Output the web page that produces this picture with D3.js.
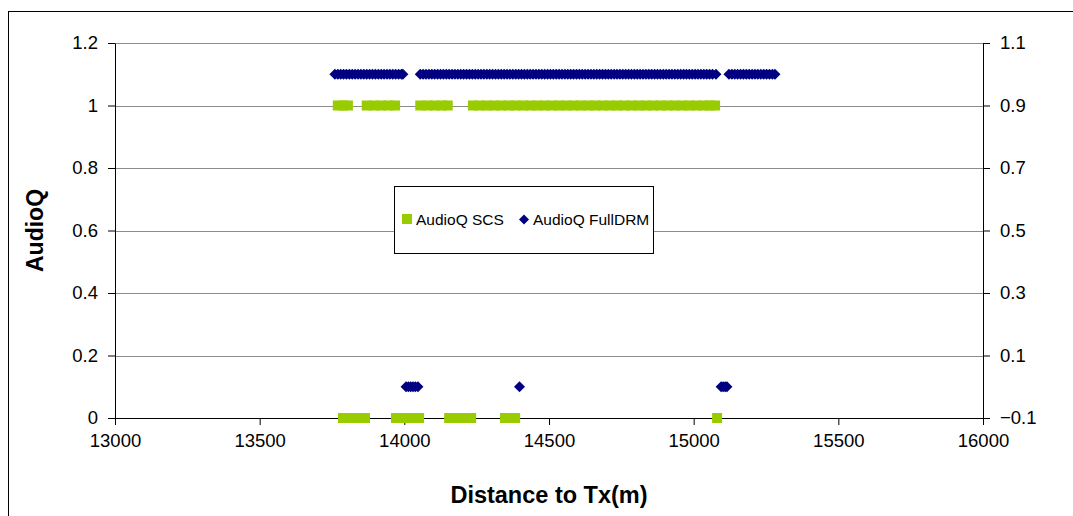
<!DOCTYPE html>
<html><head><meta charset="utf-8">
<script src="https://cdn.jsdelivr.net/npm/d3@7"></script>
<style>body{margin:0;background:#fff}svg{display:block;font-family:Arial,"Liberation Sans",sans-serif}</style>
</head><body><svg id="c" width="1073" height="516"></svg>
<script>
// ---- data ----
const xTicks = [13000, 13500, 14000, 14500, 15000, 15500, 16000];
const yLeftTicks = [0, 0.2, 0.4, 0.6, 0.8, 1, 1.2];
const yRightTicks = [-0.1, 0.1, 0.3, 0.5, 0.7, 0.9, 1.1];
const seriesNames = ["AudioQ SCS", "AudioQ FullDRM"];

// AudioQ SCS (left axis): distances where AudioQ = 1 and where AudioQ = 0
const scsDistanceQ1 = [
  13770, 13788, 13805,
  13870, 13895, 13920, 13945, 13968,
  14055, 14080, 14105, 14130, 14150,
  14237, 14260, 14285, 14310, 14335, 14360, 14385, 14410, 14435, 14460, 14485,
  14510, 14535, 14560, 14585, 14610, 14635, 14660, 14685, 14710, 14735, 14760,
  14785, 14810, 14835, 14860, 14885, 14910, 14935, 14960, 14985, 15010, 15035, 15055, 15074
];
const scsDistanceQ0 = [
  13788, 13808, 13828, 13848, 13864,
  13971, 13991, 14011, 14031, 14051,
  14155, 14175, 14195, 14215, 14231,
  14348, 14366, 14383,
  15081
];

// AudioQ FullDRM (right axis): distances where AudioQ = 1 and where AudioQ = 0
const drmDistanceQ1 = [
  13760, 13770, 13780, 13790, 13800, 13810, 13820, 13830, 13840, 13850,
  13860, 13870, 13880, 13890, 13900, 13910, 13920, 13930, 13940, 13950,
  13960, 13970, 13980, 13990, 13995,
  14055, 14065, 14075, 14085, 14095, 14105, 14115, 14125, 14135, 14145,
  14155, 14165, 14175, 14185, 14195, 14205, 14215, 14225, 14235, 14245,
  14255, 14265, 14275, 14285, 14295, 14305, 14315, 14325, 14335, 14345,
  14355, 14365, 14375, 14385, 14395, 14405, 14415, 14425, 14435, 14445,
  14455, 14465, 14475, 14485, 14495, 14505, 14515, 14525, 14535, 14545,
  14555, 14565, 14575, 14585, 14595, 14605, 14615, 14625, 14635, 14645,
  14655, 14665, 14675, 14685, 14695, 14705, 14715, 14725, 14735, 14745,
  14755, 14765, 14775, 14785, 14795, 14805, 14815, 14825, 14835, 14845,
  14855, 14865, 14875, 14885, 14895, 14905, 14915, 14925, 14935, 14945,
  14955, 14965, 14975, 14985, 14995, 15005, 15015, 15025, 15035, 15045,
  15055, 15065, 15077,
  15122, 15132, 15142, 15152, 15162, 15172, 15182, 15192, 15202, 15212,
  15222, 15232, 15242, 15252, 15262, 15272, 15281
];
const drmDistanceQ0 = [
  14006, 14014, 14022, 14030, 14038, 14047,
  14398,
  15095, 15102, 15109, 15115
];

// ---- chart ----
const svg = d3.select("#c");
const L = 115, R = 983, T = 43, B = 418;
const x = d3.scaleLinear().domain([13000, 16000]).range([L, R]);
const yL = d3.scaleLinear().domain([0, 1.2]).range([B, T]);
const yR = d3.scaleLinear().domain([-0.1, 1.1]).range([B, T]);

// outer border
svg.append("rect").attr("x", 8.5).attr("y", 11.5).attr("width", 1100).attr("height", 600)
  .attr("fill", "none").attr("stroke", "#000").attr("stroke-width", 1);

// gridlines
svg.append("g").selectAll("line").data(yLeftTicks.filter(d => d > 0)).join("line")
  .attr("x1", L).attr("x2", R)
  .attr("y1", d => Math.round(yL(d)) + 0.5).attr("y2", d => Math.round(yL(d)) + 0.5)
  .attr("stroke", "#8c8c8c").attr("stroke-width", 1);

const fmt = d => d3.format("")(+d.toFixed(1));
const axStyle = g => {
  g.selectAll("path,line").attr("stroke", "#000");
  g.selectAll("text").attr("font-size", 18.5).attr("fill", "#000").attr("font-family", "Arial, 'Liberation Sans', sans-serif");
};

svg.append("g").attr("transform", `translate(${L},0)`)
  .call(d3.axisLeft(yL).tickValues(yLeftTicks).tickFormat(fmt).tickSize(7).tickSizeOuter(0).tickPadding(10))
  .call(axStyle);
svg.append("g").attr("transform", `translate(${R},0)`)
  .call(d3.axisRight(yR).tickValues(yRightTicks).tickFormat(fmt).tickSize(7).tickSizeOuter(0).tickPadding(10))
  .call(axStyle);
svg.append("g").attr("transform", `translate(0,${B})`)
  .call(d3.axisBottom(x).tickValues(xTicks).tickFormat(d3.format("d")).tickSize(7).tickSizeOuter(0).tickPadding(9))
  .call(axStyle);

// titles
svg.append("text").attr("x", x(14500)).attr("y", 503).attr("text-anchor", "middle")
  .attr("font-size", 23.5).attr("font-weight", "bold").text("Distance to Tx(m)");
svg.append("text").attr("transform", `translate(43,${yL(0.6)}) rotate(-90)`).attr("text-anchor", "middle")
  .attr("font-size", 23).attr("font-weight", "bold").text("AudioQ");

// series
const green = "#99cc00", navy = "#000080";
const scs = scsDistanceQ1.map(d => [d, 1]).concat(scsDistanceQ0.map(d => [d, 0]));
const drm = drmDistanceQ1.map(d => [d, 1]).concat(drmDistanceQ0.map(d => [d, 0]));
const sq = 10, dh = 5.5;
svg.append("g").selectAll("rect").data(scs).join("rect")
  .attr("x", d => x(d[0]) - sq / 2).attr("y", d => yL(d[1]) - sq / 2)
  .attr("width", sq).attr("height", sq).attr("fill", green);
const diamond = (cx, cy, h) => `M${cx},${cy - h}L${cx + h},${cy}L${cx},${cy + h}L${cx - h},${cy}Z`;
svg.append("g").selectAll("path").data(drm).join("path")
  .attr("d", d => diamond(x(d[0]), yR(d[1]), dh)).attr("fill", navy);

// legend
const lg = svg.append("g");
lg.append("rect").attr("x", 394.5).attr("y", 186.5).attr("width", 259).attr("height", 67)
  .attr("fill", "#fff").attr("stroke", "#000");
lg.append("rect").attr("x", 402).attr("y", 214).attr("width", 10).attr("height", 10).attr("fill", green);
lg.append("text").attr("x", 416).attr("y", 225).attr("font-size", 15.5).text(seriesNames[0]);
lg.append("path").attr("d", diamond(524, 219.5, 5)).attr("fill", navy);
lg.append("text").attr("x", 533).attr("y", 225).attr("font-size", 15.5).text(seriesNames[1]);
</script></body></html>
